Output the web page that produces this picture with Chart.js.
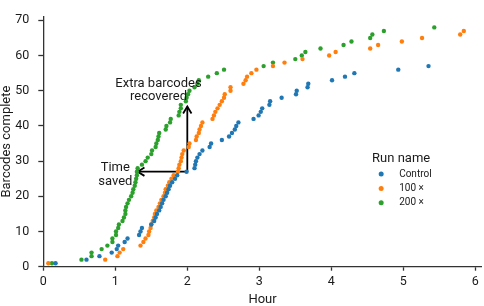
<!DOCTYPE html>
<html>
<head>
<meta charset="utf-8">
<script src="https://cdn.jsdelivr.net/npm/chart.js@4.4.1/dist/chart.umd.min.js"></script>
<style>
  html, body { margin: 0; padding: 0; background: #fff; }
  canvas { display: block; }
</style>
</head>
<body>
<canvas id="barcodeChart" width="484" height="306"></canvas>
<script>
// hour at which each successive barcode finished, per run
const controlHours = [0.17, 0.60, 0.78, 0.95, 1.02, 1.04, 1.13, 1.17, 1.33, 1.35,
    1.37, 1.50, 1.54, 1.56, 1.58, 1.61, 1.63, 1.65, 1.67, 1.70,
    1.72, 1.74, 1.76, 1.79, 1.83, 1.86, 1.99, 2.10, 2.11, 2.12,
    2.14, 2.17, 2.21, 2.31, 2.33, 2.48, 2.58, 2.62, 2.66, 2.68,
    2.71, 2.92, 2.99, 3.02, 3.04, 3.14, 3.15, 3.31, 3.51, 3.52,
    3.67, 3.68, 4.01, 4.19, 4.32, 4.93, 5.35];
const hours100x = [0.07, 0.86, 1.03, 1.06, 1.11, 1.35, 1.39, 1.42, 1.46, 1.47,
    1.49, 1.50, 1.52, 1.54, 1.55, 1.57, 1.60, 1.62, 1.64, 1.67,
    1.69, 1.70, 1.73, 1.75, 1.78, 1.81, 1.87, 1.88, 1.89, 1.91,
    1.92, 1.93, 1.95, 2.02, 2.03, 2.12, 2.13, 2.16, 2.17, 2.19,
    2.21, 2.35, 2.37, 2.39, 2.42, 2.45, 2.48, 2.51, 2.52, 2.60,
    2.60, 2.78, 2.81, 2.83, 2.89, 2.96, 3.19, 3.35, 3.60, 3.97,
    4.06, 4.54, 4.65, 4.98, 5.26, 5.79, 5.84];
const hours200x = [0.12, 0.53, 0.67, 0.67, 0.81, 0.89, 0.96, 0.96, 1.01, 1.01,
    1.04, 1.05, 1.10, 1.12, 1.14, 1.14, 1.15, 1.17, 1.19, 1.22,
    1.24, 1.25, 1.27, 1.28, 1.29, 1.30, 1.30, 1.31, 1.37, 1.42,
    1.45, 1.50, 1.51, 1.56, 1.57, 1.59, 1.60, 1.61, 1.70, 1.71,
    1.76, 1.77, 1.88, 1.89, 1.91, 1.91, 1.98, 1.99, 2.01, 2.03,
    2.10, 2.14, 2.16, 2.29, 2.41, 2.51, 3.06, 3.19, 3.50, 3.59,
    3.64, 3.85, 4.17, 4.28, 4.54, 4.57, 4.73, 5.43];
// cumulative number of barcodes complete
const barcodeCounts = [1, 2, 3, 4, 5, 6, 7, 8, 9, 10, 11, 12, 13, 14, 15, 16, 17,
    18, 19, 20, 21, 22, 23, 24, 25, 26, 27, 28, 29, 30, 31, 32, 33, 34,
    35, 36, 37, 38, 39, 40, 41, 42, 43, 44, 45, 46, 47, 48, 49, 50, 51,
    52, 53, 54, 55, 56, 57, 58, 59, 60, 61, 62, 63, 64, 65, 66, 67, 68];
const runNames = ['Control', '100 \u00d7', '200 \u00d7'];
const runColors = ['#1f77b4', '#ff7f0e', '#2ca02c'];
const xTicks = [0, 1, 2, 3, 4, 5, 6];
const yTicks = [0, 10, 20, 30, 40, 50, 60, 70];

// arrow annotations, in data units
const arrowCorner = [2.0, 27];
const timeSavedTip = [1.31, 27];
const extraTip = [2.0, 45.5];

const FONT = 'Roboto, "DejaVu Sans", sans-serif';
const INK = '#1a1a1a';

function toPoints(hours) {
    return hours.map((h, i) => ({ x: h, y: barcodeCounts[i] }));
}

function arrow(ctx, x0, y0, x1, y1) {
    const ang = Math.atan2(y1 - y0, x1 - x0);
    const len = 8, spread = 0.55;
    ctx.beginPath();
    ctx.moveTo(x0, y0);
    ctx.lineTo(x1, y1);
    ctx.stroke();
    ctx.beginPath();
    ctx.moveTo(x1 - len * Math.cos(ang - spread), y1 - len * Math.sin(ang - spread));
    ctx.lineTo(x1, y1);
    ctx.lineTo(x1 - len * Math.cos(ang + spread), y1 - len * Math.sin(ang + spread));
    ctx.stroke();
}

const annotationPlugin = {
    id: 'runAnnotations',
    beforeDatasetsDraw(chart) {
        const { ctx, scales: { x, y } } = chart;
        const cx = x.getPixelForValue(arrowCorner[0]);
        const cy = y.getPixelForValue(arrowCorner[1]);
        ctx.save();
        ctx.strokeStyle = '#000';
        ctx.lineWidth = 1.8;
        arrow(ctx, cx, cy, x.getPixelForValue(timeSavedTip[0]), y.getPixelForValue(timeSavedTip[1]));
        arrow(ctx, cx, cy, x.getPixelForValue(extraTip[0]), y.getPixelForValue(extraTip[1]));
        ctx.restore();
    },
    afterDraw(chart) {
        const { ctx, scales: { x, y } } = chart;
        ctx.save();
        ctx.fillStyle = INK;
        ctx.textAlign = 'center';
        ctx.textBaseline = 'middle';
        ctx.font = '13px ' + FONT;
        ctx.fillText('Time', x.getPixelForValue(1.0), y.getPixelForValue(28));
        ctx.fillText('saved', x.getPixelForValue(1.0), y.getPixelForValue(24.2));
        ctx.fillText('Extra barcodes', x.getPixelForValue(1.6), y.getPixelForValue(52));
        ctx.fillText('recovered', x.getPixelForValue(1.6), y.getPixelForValue(48.2));

        // legend
        const lx = x.getPixelForValue(4.97);
        const ly = y.getPixelForValue(30.6);
        ctx.fillText('Run name', lx, ly);
        ctx.font = '10px ' + FONT;
        ctx.textAlign = 'left';
        runNames.forEach((name, i) => {
            const rowY = ly + 15 + i * 14.4;
            ctx.fillStyle = runColors[i];
            ctx.beginPath();
            ctx.arc(lx - 20, rowY, 2.5, 0, Math.PI * 2);
            ctx.fill();
            ctx.fillStyle = INK;
            ctx.fillText(name, lx - 2, rowY);
        });
        ctx.restore();
    }
};

const ctx = document.getElementById('barcodeChart').getContext('2d');
new Chart(ctx, {
    type: 'scatter',
    data: {
        datasets: [controlHours, hours100x, hours200x].map((hours, i) => ({
            label: runNames[i],
            data: toPoints(hours),
            backgroundColor: runColors[i],
            borderWidth: 0,
            pointRadius: 2.2,
            pointHoverRadius: 2.2
        }))
    },
    options: {
        responsive: false,
        animation: false,
        devicePixelRatio: 1,
        layout: { padding: 0 },
        plugins: {
            legend: { display: false },
            tooltip: { enabled: false }
        },
        scales: {
            x: {
                type: 'linear',
                min: 0,
                max: 6.09,
                afterBuildTicks: s => { s.ticks = xTicks.map(v => ({ value: v })); },
                afterFit: s => { s.height = 39.3; },
                ticks: { font: { family: FONT, size: 12.5 }, color: INK, padding: 4 },
                grid: { drawOnChartArea: false, tickLength: 4, tickWidth: 1.3, tickColor: '#333' },
                border: { color: '#333', width: 1.3 },
                title: { display: true, text: 'Hour', font: { family: FONT, size: 13 }, color: INK, padding: { top: 0, bottom: -2 } }
            },
            y: {
                type: 'linear',
                min: 0,
                max: 71.1,
                afterBuildTicks: s => { s.ticks = yTicks.map(v => ({ value: v })); },
                afterFit: s => { s.width = 43.3; },
                ticks: { font: { family: FONT, size: 12.5 }, color: INK, padding: 9 },
                grid: { drawOnChartArea: false, tickLength: 5, tickWidth: 1.3, tickColor: '#333' },
                border: { color: '#333', width: 1.3 },
                title: { display: true, text: 'Barcodes complete', font: { family: FONT, size: 13 }, color: INK, padding: { top: -1, bottom: 0 } }
            }
        }
    },
    plugins: [annotationPlugin]
});
</script>
</body>
</html>
